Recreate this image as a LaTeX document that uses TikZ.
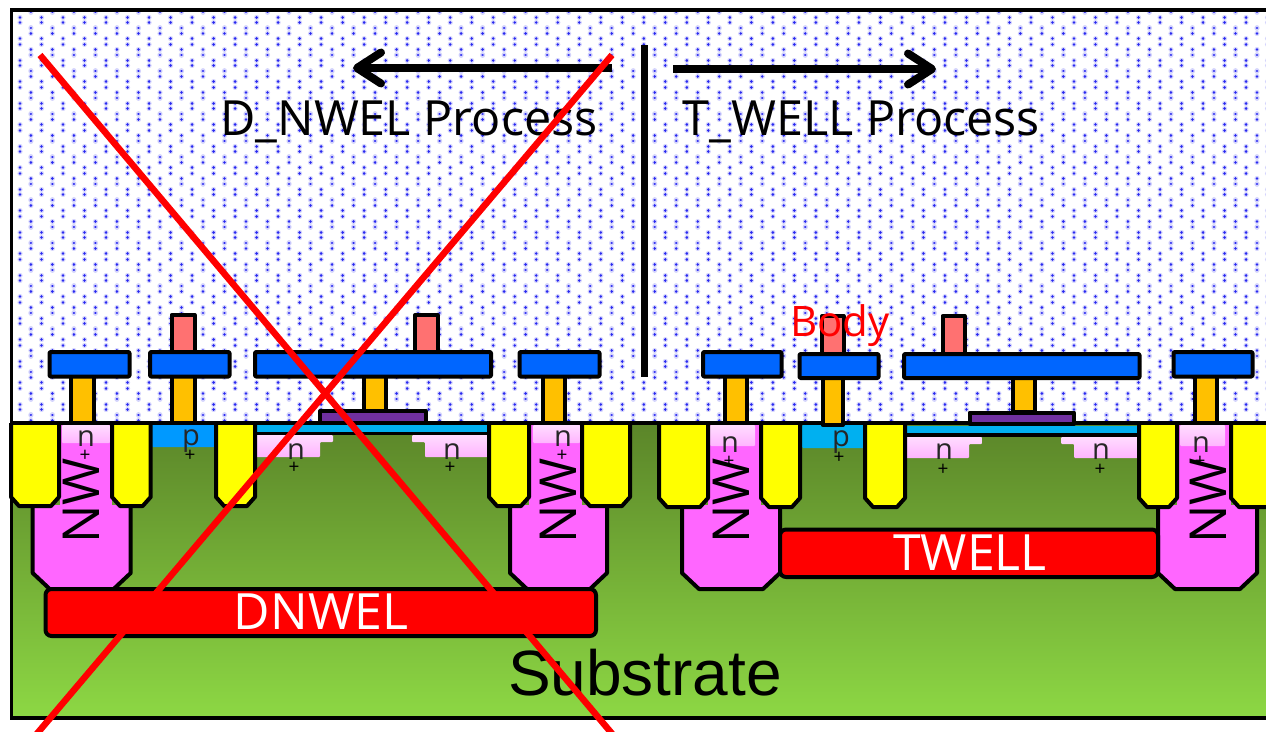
\documentclass[tikz,border=0pt]{standalone}
\usepackage{fontspec}
\setmainfont{Open Sans}
\newfontfamily\arialfont{Liberation Sans}
\usetikzlibrary{arrows.meta}
\definecolor{stiY}{HTML}{FFFF00}
\definecolor{wellP}{HTML}{FF66FF}
\definecolor{metalB}{HTML}{0066FF}
\definecolor{viaO}{HTML}{FFC000}
\definecolor{topP}{HTML}{FF7171}
\definecolor{gateP}{HTML}{7030A0}
\definecolor{oxC}{HTML}{00B0F0}
\definecolor{pLeft}{HTML}{0099FF}
\definecolor{subT}{HTML}{5B8529}
\definecolor{subB}{HTML}{8DD844}
\definecolor{nTop}{HTML}{FFDCFF}
\definecolor{nBot}{HTML}{FFB4FF}
\definecolor{dotC}{HTML}{2A2AF0}
\definecolor{dotH}{HTML}{D4D4FC}
\tikzset{
  x=1pt,y=-1pt,
  part/.style={draw=black,line width=4pt,line join=round},
  sti/.style={part,fill=stiY},
  well/.style={part,fill=wellP},
  metal/.style={part,fill=metalB,rounded corners=1pt},
  viaplug/.style={part,fill=viaO},
  toppad/.style={part,fill=topP},
  gatebar/.style={part,fill=gateP},
  implant/.style={part,fill=red,rounded corners=6pt},
  nreg/.style={top color=nTop,bottom color=nBot,rounded corners=1pt},
  lab/.style={inner sep=0pt,font=\fontsize{29}{29}\selectfont,text=black!85},
  plus/.style={inner sep=0pt,font=\fontsize{19}{19}\selectfont,text=black},
  nwlab/.style={inner sep=0pt,rotate=90,font=\fontsize{51}{51}\selectfont,text=black},
  impl/.style={inner sep=0pt,font=\fontsize{50}{50}\selectfont,text=white},
  proc/.style={inner sep=0pt,font=\fontsize{48.5}{48.5}\selectfont,text=black},
  dir/.style={line width=8pt,-{Straight Barb[round,length=24pt,width=31pt,line width=8pt]}},
  cross/.style={draw=red,line width=6.5pt},
}
% STI trench with chamfered bottom: x1,x2,bottom
\newcommand{\stibox}[3]{\draw[sti] (#1,423) -- (#1,#3-9) -- (#1+8,#3) -- (#2-8,#3) -- (#2,#3-9) -- (#2,423);}
% well: x1,x2
\newcommand{\wellbox}[2]{\draw[well] (#1,505) -- (#1,573) -- (#1+17,589) -- (#2-17,589) -- (#2,573) -- (#2,505);}
\begin{document}
\begin{tikzpicture}
\useasboundingbox (0,0) rectangle (1266,731);
\clip (0,0) rectangle (1266,731);
\fill[white] (0,0) rectangle (1266,731);
% dotted background
\begin{scope}
\clip (12,11) rectangle (1266,422);
\foreach \r in {0,...,38}{
  \pgfmathsetmacro{\ya}{17.3+21.5*(\r-0)/2}
  \pgfmathsetmacro{\yb}{12+21.5*(\r-0)/2}
  \pgfmathsetmacro{\xa}{ifthenelse(mod(\r,2)==0,20,30.9)}
  \pgfmathsetmacro{\xb}{ifthenelse(mod(\r,2)==0,30.9,20)}
  \draw[dotH,line width=5.2pt,line cap=round,dash pattern=on 0.01pt off 21.5pt] (\xa,\ya) -- (1270,\ya);
  \draw[dotH,line width=5.2pt,line cap=round,dash pattern=on 0.01pt off 21.5pt] (\xb,\yb) -- (1270,\yb);
  \draw[dotC,line width=2.8pt,line cap=round,dash pattern=on 0.01pt off 21.5pt] (\xa,\ya) -- (1270,\ya);
  \draw[dotC,line width=2.8pt,line cap=round,dash pattern=on 0.01pt off 21.5pt] (\xb,\yb) -- (1270,\yb);
}
\end{scope}
% substrate
\shade[top color=subT,bottom color=subB,shading angle=0] (11,423) rectangle (1270,718);

% === left device ===
\wellbox{32.7}{130.7}
\fill[wellP] (60,424) rectangle (112,510);
\shade[nreg] (62,425) rectangle (110,443);
\wellbox{510}{607}
\fill[wellP] (529,424) rectangle (582,510);
\shade[nreg] (533,425) rectangle (580,443);
\fill[pLeft,rounded corners=1pt] (152,424) rectangle (216,447);
% n+ steps and oxide
\shade[nreg] (256,435) -- (333,435) -- (333,442) -- (320,442) -- (320,457) -- (256,457) -- cycle;
\shade[nreg] (412,435) -- (489,435) -- (489,457) -- (425,457) -- (425,442) -- (412,442) -- cycle;
\fill[oxC] (256,425) rectangle (489,432);
\draw[black,line width=3.4pt] (256,433.5) -- (489,433.5);
\stibox{11}{59}{506}
\stibox{112}{150.7}{506}
\stibox{216}{255}{506}
\stibox{489}{529}{506}
\stibox{582}{630}{506}

% === right device ===
\wellbox{682}{780}
\fill[wellP] (708,424) rectangle (761,510);
\shade[nreg] (710,425) rectangle (755,446);
\wellbox{1158}{1257}
\fill[wellP] (1177,424) rectangle (1231,510);
\shade[nreg] (1180,425) rectangle (1225,446);
\fill[oxC,rounded corners=1pt] (802,425) rectangle (865,448);
\shade[nreg] (905,437) -- (982,437) -- (982,444) -- (969,444) -- (969,458) -- (905,458) -- cycle;
\shade[nreg] (1061,437) -- (1138,437) -- (1138,458) -- (1074,458) -- (1074,444) -- (1061,444) -- cycle;
\fill[oxC] (905,426) rectangle (1138,433);
\draw[black,line width=3.4pt] (905,435) -- (1138,435);
\stibox{659}{708}{507}
\stibox{761}{800}{507}
\stibox{865}{905}{507}
\stibox{1139}{1177}{507}
\stibox{1231}{1290}{507}

% surface line and frame
\draw[black,line width=4pt] (11,423) -- (1270,423);
\draw[black,line width=3.6pt] (1275,10) -- (11.5,10) -- (11.5,718) -- (1275,718);

% implants
\draw[implant] (45.5,589) rectangle (596,636);
\draw[implant] (780,529.5) rectangle (1158,577);
\node[impl] (dnwel) at (321,612) {DNWEL};
\node[impl] (twell) at (970,553) {TWELL};

% contacts, left
\draw[viaplug] (71,376) rectangle (94,423);
\draw[metal] (49.5,352) rectangle (129.5,376.5);
\draw[toppad] (171.5,315) rectangle (194.5,352);
\draw[viaplug] (171.5,376) rectangle (194.5,423);
\draw[metal] (150,352) rectangle (229.5,376.5);
\draw[toppad] (415,315) rectangle (437.5,352);
\draw[viaplug] (364,376) rectangle (385.5,411);
\draw[metal] (255,352) rectangle (491,376.5);
\draw[gatebar] (320,411) rectangle (425.5,423);
\draw[viaplug] (543,376) rectangle (565,423);
\draw[metal] (519.5,352) rectangle (599.5,376.5);
% contacts, right
\draw[viaplug] (725,376) rectangle (747,423);
\draw[metal] (703,352) rectangle (781.5,376.5);
\draw[toppad] (822,316) rectangle (843.5,354);
\draw[viaplug] (822.5,378) rectangle (843,425);
\draw[metal] (799.5,354) rectangle (878.5,378);
\draw[toppad] (942.5,316) rectangle (964.5,354);
\draw[viaplug] (1013,378) rectangle (1035,412);
\draw[metal] (904,354) rectangle (1139.5,378);
\draw[gatebar] (969.5,412.5) rectangle (1074,424);
\draw[viaplug] (1195,376) rectangle (1217,423);
\draw[metal] (1173.5,352) rectangle (1252.5,376.5);

% doping labels
\node[lab] (n1) at (86,439) {n}; \node[plus] (p1) at (85,456) {+};
\node[lab] (p2) at (191,441) {p}; \node[plus] (p2p) at (190,456) {+};
\node[lab] (n3) at (296,452) {n}; \node[plus] (p3) at (294,468) {+};
\node[lab] (n4) at (452,452) {n}; \node[plus] (p4) at (450,468) {+};
\node[lab] (n5) at (563,439) {n}; \node[plus] (p5) at (562,456) {+};
\node[lab] (n6) at (730,445) {n}; \node[plus] (p6) at (729,462) {+};
\node[lab] (p7) at (841,442) {p}; \node[plus] (p7p) at (839,458) {+};
\node[lab] (n8) at (944,452) {n}; \node[plus] (p8) at (943,470) {+};
\node[lab] (n9) at (1101,452) {n}; \node[plus] (p9) at (1100,470) {+};
\node[lab] (n10) at (1201,445) {n}; \node[plus] (p10) at (1200,462) {+};
\node[nwlab] (nw1) at (81.5,501) {NW};
\node[nwlab] (nw2) at (558,501) {NW};
\node[nwlab] (nw3) at (731,501) {NW};
\node[nwlab] (nw4) at (1208,501) {NW};

% titles
\node[proc] (dproc) at (409,122) {D\_NWEL Process};
\node[proc] (tproc) at (861.5,122) {T\_WELL Process};
\node[inner sep=0pt,font=\fontsize{42}{42}\selectfont,text=red] (body) at (840,326) {Body};
\node[inner sep=0pt,font=\arialfont\fontsize{64}{64}\selectfont,text=black] (sub) at (645,673) {Substrate};

% divider and direction arrows
\coordinate (divT) at (644.5,45);
\coordinate (divB) at (644.5,377);
\draw[black,line width=7.5pt] (divT) -- (divB);
\coordinate (la) at (612,68);
\coordinate (lb) at (353,68);
\coordinate (ra) at (673,69);
\coordinate (rb) at (936,69);
\draw[dir] (la) -- (lb);
\draw[dir] (ra) -- (rb);

% red cross
\coordinate (xa1) at (40,55);
\coordinate (xa2) at (614,736);
\coordinate (xb1) at (612,55);
\coordinate (xb2) at (35,736);
\draw[cross] (xa1) -- (xa2);
\draw[cross] (xb1) -- (xb2);
\end{tikzpicture}
\end{document}
